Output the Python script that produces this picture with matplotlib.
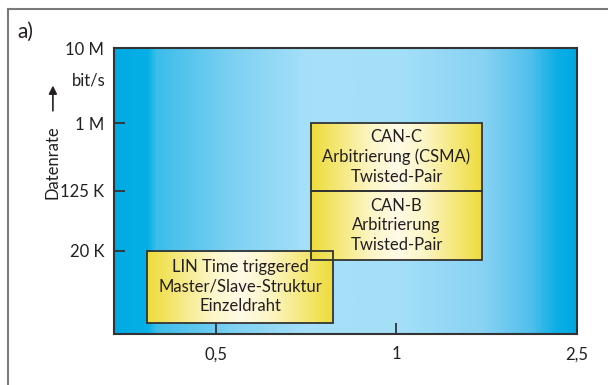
import matplotlib
matplotlib.use('Agg')
import matplotlib.pyplot as plt
import numpy as np
from matplotlib.colors import LinearSegmentedColormap
from matplotlib.patches import Rectangle
from matplotlib.lines import Line2D

plt.rcParams['font.family'] = ['Liberation Sans Narrow', 'Lato', 'DejaVu Sans']

# x axis is drawn as three evenly spaced categories
x_labels = ['0,5', '1', '2,5']
y_ticks = [1e7, 1e6, 125e3, 20e3]
y_labels = ['10 M', '1 M', '125 K', '20 K']

# boxes: (x from, x to, rate from, rate to, text)
box_names = ['LIN', 'CAN-B', 'CAN-C']
box_x0 = [-0.38, 0.525, 0.525]
box_x1 = [0.648, 1.475, 1.475]
box_y0 = [2.2e3, 15e3, 125e3]
box_y1 = [20e3, 125e3, 1e6]
box_text = ['LIN Time triggered\nMaster/Slave-Struktur\nEinzeldraht',
            'CAN-B\nArbitrierung\nTwisted-Pair',
            'CAN-C\nArbitrierung (CSMA)\nTwisted-Pair']

txt = '#231f20'
fig = plt.figure(figsize=(6.08, 3.85), dpi=100)
pos = [0.1875, 0.1325, 0.7615, 0.7428]

# background gradient
bg = fig.add_axes(pos, zorder=0)
blue_cmap = LinearSegmentedColormap.from_list('bg', [
    (0.0, '#00abe4'), (0.07, '#06b0e6'), (0.09, '#3cbdea'),
    (0.25, '#7cd0f2'), (0.42, '#a6e0f8'), (0.62, '#a4dff8'),
    (0.80, '#88d2f3'), (0.90, '#52c0ec'), (0.96, '#0caee6'), (1.0, '#00a9e2')])
bg.imshow(np.linspace(0, 1, 400).reshape(1, -1), cmap=blue_cmap, aspect='auto',
          extent=[0, 1, 0, 1])
bg.axis('off')

ax = fig.add_axes(pos, zorder=1)
ax.patch.set_visible(False)
ax.set_yscale('log')
ax.set_xlim(-0.565, 2)
ax.set_ylim(1.55e3, 1e7)

yel_cmap = LinearSegmentedColormap.from_list('yel', [
    (0.0, '#eedc3c'), (0.12, '#f3e56a'), (0.35, '#fdf6c8'), (0.5, '#fffbe6'),
    (0.65, '#fdf6c8'), (0.88, '#f3e56a'), (1.0, '#eedc3c')])
for i in range(len(box_names)):
    ax.imshow(np.linspace(0, 1, 200).reshape(1, -1), cmap=yel_cmap, aspect='auto',
              extent=[box_x0[i], box_x1[i], box_y0[i], box_y1[i]], zorder=2)
    ax.add_patch(Rectangle((box_x0[i], box_y0[i]), box_x1[i] - box_x0[i],
                           box_y1[i] - box_y0[i], fill=False, edgecolor='#333333',
                           linewidth=1.3, zorder=3))
    ym = np.sqrt(box_y0[i] * box_y1[i])
    ax.text((box_x0[i] + box_x1[i]) / 2, ym, box_text[i], ha='center', va='center',
            fontsize=12, color=txt, linespacing=1.25, zorder=4)
ax.set_xlim(-0.565, 2)
ax.set_ylim(1.55e3, 1e7)

ax.set_xticks(range(len(x_labels)))
ax.set_xticklabels(x_labels)
ax.set_yticks(y_ticks)
ax.set_yticklabels(y_labels)
ax.yaxis.set_minor_locator(matplotlib.ticker.NullLocator())
ax.tick_params(direction='in', length=8, width=1.3, color='#333333', labelsize=12,
               labelcolor=txt)
ax.tick_params(axis='y', pad=7)
ax.tick_params(axis='x', pad=9)
for s in ax.spines.values():
    s.set_color('#333333')
    s.set_linewidth(1.5)

fig.text(0.173, 0.792, 'bit/s', ha='right', va='center', fontsize=12, color=txt)
fig.text(0.087, 0.58, 'Datenrate', rotation=90, ha='center', va='center',
         fontsize=12, color=txt)
ax.annotate('', xy=(0.087, 0.785), xytext=(0.087, 0.705), xycoords='figure fraction',
            arrowprops=dict(arrowstyle='-|>', color=txt, lw=1.2, mutation_scale=12))
fig.text(0.028, 0.917, 'a)', ha='left', va='center', fontsize=15, color=txt)

# outer frame (top and left edges)
fig.add_artist(Line2D([0.013, 1.0], [0.977, 0.977], color='#7a7a7a', lw=1.5))
fig.add_artist(Line2D([0.013, 0.013], [0.0, 0.977], color='#7a7a7a', lw=1.5))

fig.savefig('out.png', dpi=100)
